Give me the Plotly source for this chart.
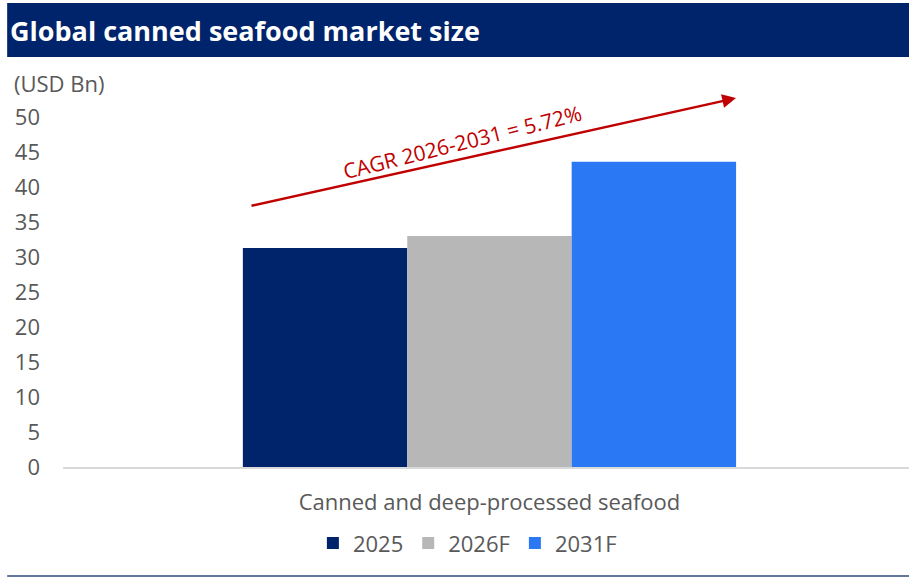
import plotly.graph_objects as go

# Market size by year (USD Bn)
categories = ["Canned and deep-processed seafood"]
series_names = ["2025", "2026F", "2031F"]
series_values = [[31.3], [33.0], [43.6]]
series_colors = ["#00246B", "#B7B7B7", "#2A78F4"]
y_ticks = [0, 5, 10, 15, 20, 25, 30, 35, 40, 45, 50]

FONT = "Open Sans"
GREY = "#595959"

fig = go.Figure()
for name, vals, col in zip(series_names, series_values, series_colors):
    fig.add_trace(go.Bar(name=name, x=categories, y=vals, marker_color=col,
                         marker_line_width=0))

fig.update_layout(
    width=909, height=577,
    margin=dict(l=63, r=0, t=117, b=110),
    paper_bgcolor="white", plot_bgcolor="white",
    barmode="group", bargap=0.417, bargroupgap=0,
    font=dict(family=FONT, color=GREY, size=22),
    showlegend=True,
    legend=dict(orientation="h", x=0.478, xanchor="center", y=-0.218, yanchor="middle",
                font=dict(size=22, color=GREY), itemwidth=30, traceorder="normal"),
    xaxis=dict(range=[-0.5041, 0.4959], showgrid=False, showline=True,
               linecolor="#D9D9D9", linewidth=2,
               ticks="", ticklabelstandoff=15, tickfont=dict(size=22, color=GREY)),
    yaxis=dict(range=[0, 50], tickvals=y_ticks, showgrid=False, zeroline=False,
               showline=False, ticks="", ticklabelstandoff=22,
               tickfont=dict(size=22, color=GREY)),
)

# Title band
fig.add_shape(type="rect", xref="paper", yref="paper", x0=-0.066, x1=1.0,
              y0=1.1714, y1=1.3257, fillcolor="#00246B", line_width=0, layer="below")
fig.add_annotation(xref="paper", yref="paper", x=-0.065, y=1.248, xanchor="left",
                   yanchor="middle", showarrow=False,
                   text="<b>Global canned seafood market size</b>",
                   font=dict(family=FONT, size=27, color="white"))

# Unit label
fig.add_annotation(xref="paper", yref="paper", x=-0.060, y=1.097, xanchor="left",
                   yanchor="middle", showarrow=False, text="(USD Bn)",
                   font=dict(family=FONT, size=22, color=GREY))

# Growth arrow and CAGR label
fig.add_annotation(xref="paper", yref="paper", x=0.7955, y=1.054,
                   ax=-486, ay=108, axref="pixel", ayref="pixel",
                   showarrow=True, arrowhead=2, arrowsize=1.1, arrowwidth=2.5,
                   arrowcolor="#C00000", text="")
fig.add_annotation(xref="paper", yref="paper", x=0.472, y=1.058,
                   showarrow=False, textangle=-14, text="CAGR 2026-2031 = 5.72%",
                   font=dict(family=FONT, size=21, color="#C00000"))

# Bottom rule
fig.add_shape(type="line", xref="paper", yref="paper", x0=-0.066, x1=1.0,
              y0=-0.3114, y1=-0.3114, line=dict(color="#2E4A7D", width=1.5))

fig.write_html("out.html")
